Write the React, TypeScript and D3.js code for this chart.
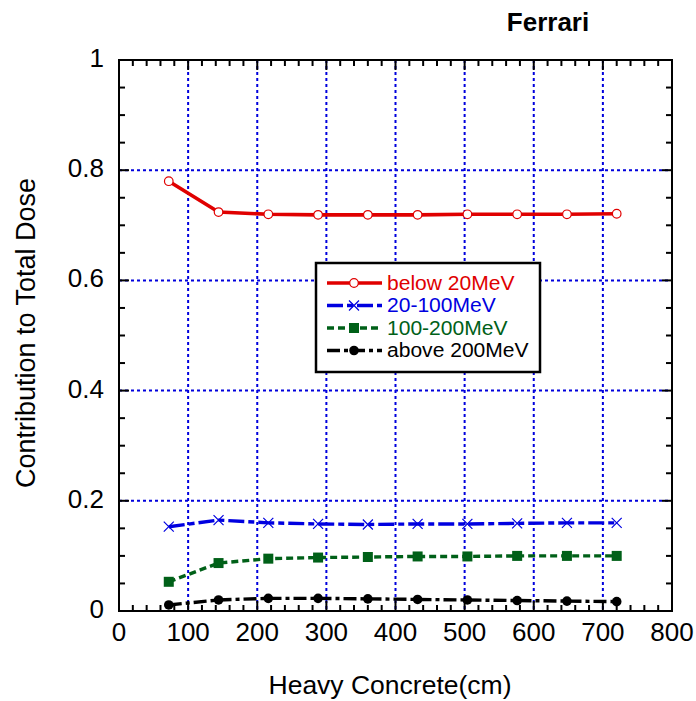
import React from "react";
import * as d3 from "d3";

const xValues = [72, 144, 216, 288, 360, 432, 504, 576, 648, 720];
const below20 = [0.78, 0.724, 0.72, 0.719, 0.719, 0.719, 0.72, 0.72, 0.72, 0.721];
const mev20to100 = [0.153, 0.165, 0.16, 0.158, 0.157, 0.158, 0.158, 0.159, 0.16, 0.16];
const mev100to200 = [0.053, 0.087, 0.095, 0.097, 0.098, 0.099, 0.099, 0.1, 0.1, 0.1];
const above200 = [0.011, 0.02, 0.023, 0.023, 0.022, 0.021, 0.02, 0.019, 0.018, 0.017];
const seriesNames = ["below 20MeV", "20-100MeV", "100-200MeV", "above 200MeV"];
const xTicks = [0, 100, 200, 300, 400, 500, 600, 700, 800];
const yTicks = [0, 0.2, 0.4, 0.6, 0.8, 1];
const yTickLabels = ["0", "0.2", "0.4", "0.6", "0.8", "1"];

const W = 696, H = 701;
const L = 119, R = 672, T = 60, B = 611;

export default function App() {
  const x = d3.scaleLinear().domain([0, 800]).range([L, R]);
  const y = d3.scaleLinear().domain([0, 1]).range([B, T]);
  const line = d3.line<[number, number]>().x(d => x(d[0])).y(d => y(d[1]));
  const series = [
    { name: seriesNames[0], vals: below20, color: "#e00000", dash: "none", width: 3.6, marker: "circle" },
    { name: seriesNames[1], vals: mev20to100, color: "#0000e0", dash: "16,4,6,4", width: 3.4, marker: "x" },
    { name: seriesNames[2], vals: mev100to200, color: "#006018", dash: "7,4", width: 3.4, marker: "square" },
    { name: seriesNames[3], vals: above200, color: "#000000", dash: "13,4,4,4", width: 3.4, marker: "dot" },
  ];
  const marker = (type: string, cx: number, cy: number, color: string, key: string) => {
    if (type === "circle") return <circle key={key} cx={cx} cy={cy} r={4.3} fill="white" stroke={color} strokeWidth={1.2} />;
    if (type === "x") return <path key={key} d={`M${cx - 5},${cy - 5}L${cx + 5},${cy + 5}M${cx - 5},${cy + 5}L${cx + 5},${cy - 5}`} stroke={color} strokeWidth={1.2} />;
    if (type === "square") return <rect key={key} x={cx - 5} y={cy - 5} width={10} height={10} fill={color} />;
    return <circle key={key} cx={cx} cy={cy} r={4.8} fill={color} />;
  };
  const minorX = d3.range(0, 801, 20);
  const minorY = d3.range(0, 1.0001, 0.05);
  const legX = 316, legY = 263, legW = 224, legH = 109;
  return (
    <svg width={W} height={H} style={{ position: "absolute", left: 0, top: 0, fontFamily: "Arial, 'Liberation Sans', sans-serif" }}>
      <rect x={0} y={0} width={W} height={H} fill="white" />
      {xTicks.map(t => (
        <line key={"gx" + t} x1={x(t)} x2={x(t)} y1={T} y2={B} stroke="#0000dd" strokeWidth={2} strokeDasharray="3,3" />
      ))}
      {yTicks.map(t => (
        <line key={"gy" + t} x1={L} x2={R} y1={y(t)} y2={y(t)} stroke="#0000dd" strokeWidth={2} strokeDasharray="3,3" />
      ))}
      {minorX.map(t => {
        const major = t % 100 === 0;
        const len = major ? 10 : 6;
        return (
          <g key={"mx" + t}>
            <line x1={x(t)} x2={x(t)} y1={B} y2={B - len} stroke="black" strokeWidth={2} />
            <line x1={x(t)} x2={x(t)} y1={T} y2={T + len} stroke="black" strokeWidth={2} />
          </g>
        );
      })}
      {minorY.map((t, i) => {
        const major = i % 4 === 0;
        const len = major ? 10 : 6;
        return (
          <g key={"my" + i}>
            <line x1={L} x2={L + len} y1={y(t)} y2={y(t)} stroke="black" strokeWidth={2} />
            <line x1={R} x2={R - len} y1={y(t)} y2={y(t)} stroke="black" strokeWidth={2} />
          </g>
        );
      })}
      <rect x={L} y={T} width={R - L} height={B - T} fill="none" stroke="black" strokeWidth={2} />
      {xTicks.map(t => (
        <text key={"xl" + t} x={x(t)} y={641} fontSize={26} textAnchor="middle">{t}</text>
      ))}
      {yTicks.map((t, i) => (
        <text key={"yl" + t} x={104} y={y(t) + 7} fontSize={26} textAnchor="end">{yTickLabels[i]}</text>
      ))}
      <text x={390} y={694} fontSize={26.5} textAnchor="middle">Heavy Concrete(cm)</text>
      <text transform={`translate(35,333) rotate(-90)`} fontSize={27} textAnchor="middle">Contribution to Total Dose</text>
      <text x={548} y={31} fontSize={26} fontWeight="bold" textAnchor="middle">Ferrari</text>
      {series.map((s, si) => {
        const pts: [number, number][] = xValues.map((v, i) => [v, s.vals[i]]);
        return (
          <g key={"s" + si}>
            <path d={line(pts) || ""} fill="none" stroke={s.color} strokeWidth={s.width} strokeDasharray={s.dash} />
            {pts.map((p, i) => marker(s.marker, x(p[0]), y(p[1]), s.color, `m${si}-${i}`))}
          </g>
        );
      })}
      <rect x={legX} y={legY} width={legW} height={legH} fill="white" stroke="black" strokeWidth={2.5} />
      {series.map((s, i) => {
        const ly = 283 + i * 22.5;
        return (
          <g key={"lg" + i}>
            <line x1={327} x2={382} y1={ly} y2={ly} stroke={s.color} strokeWidth={s.width} strokeDasharray={s.dash} />
            {marker(s.marker, 354, ly, s.color, "lm" + i)}
            <text transform={`translate(387,${ly + 6.5}) scale(1.08,1)`} fontSize={19.5} fill={s.color}>{s.name}</text>
          </g>
        );
      })}
    </svg>
  );
}
